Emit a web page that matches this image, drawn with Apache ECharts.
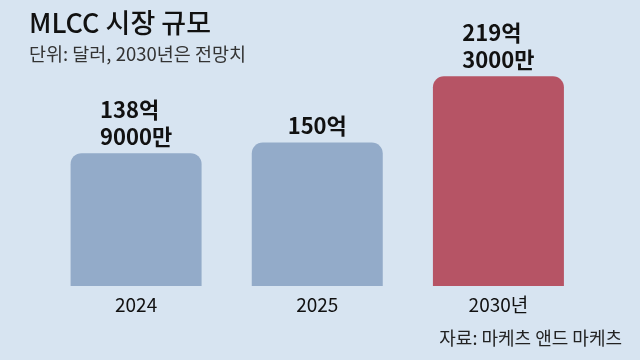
<!DOCTYPE html>
<html>
<head>
<meta charset="utf-8">
<script src="https://cdn.jsdelivr.net/npm/echarts@6/dist/echarts.min.js"></script>
<style>
html,body{margin:0;padding:0;background:#d7e4f1;}
#c{width:640px;height:360px;}
</style>
</head>
<body>
<div id="c"></div>
<script>
const categories = ['2024', '2025', '2030년'];
const values = [138.9, 150, 219.3];
const valueLabels = [['138억', '9000만'], ['150억'], ['219억', '3000만']];
const barColors = ['#93abc9', '#93abc9', '#b65465'];

const titleText = 'MLCC 시장 규모';
const subtitleText = '단위: 달러, 2030년은 전망치';
const sourceText = '자료: 마케츠 앤드 마케츠';

const FONT = '"Noto Sans CJK KR", "Noto Sans", sans-serif';

const chart = echarts.init(document.getElementById('c'), null, {renderer: 'canvas'});
chart.setOption({
  backgroundColor: '#d7e4f1',
  animation: false,
  textStyle: {fontFamily: FONT},
  title: [
    {text: titleText, left: 24, top: 4,
     textStyle: {fontFamily: FONT, fontSize: 27, fontWeight: 500, color: '#111'}},
    {text: subtitleText, left: 24, top: 40,
     textStyle: {fontFamily: FONT, fontSize: 18.5, fontWeight: 'normal', color: '#333'}},
    {text: sourceText, right: 13, bottom: 8,
     textStyle: {fontFamily: FONT, fontSize: 18, fontWeight: 'normal', color: '#222'}}
  ],
  grid: {left: 45.5, right: 51, top: 66, bottom: 74},
  xAxis: {
    type: 'category',
    data: categories,
    axisLine: {show: false},
    axisTick: {show: false},
    axisLabel: {fontFamily: FONT, fontSize: 19, color: '#111', margin: 9}
  },
  yAxis: {
    type: 'value', min: 0, max: 230,
    show: false, splitLine: {show: false}
  },
  series: [{
    type: 'bar',
    barWidth: 131,
    data: values.map((v, i) => ({
      value: v,
      itemStyle: {color: barColors[i], borderRadius: [11, 11, 0, 0]}
    })),
    label: {
      show: true,
      position: 'top',
      distance: 3,
      formatter: p => valueLabels[p.dataIndex].map(s => '{a|' + s + '}').join('\n'),
      rich: {
        a: {fontFamily: FONT, fontSize: 22, fontWeight: 'bold', color: '#111', align: 'left', lineHeight: 27}
      }
    }
  }]
});
</script>
</body>
</html>
